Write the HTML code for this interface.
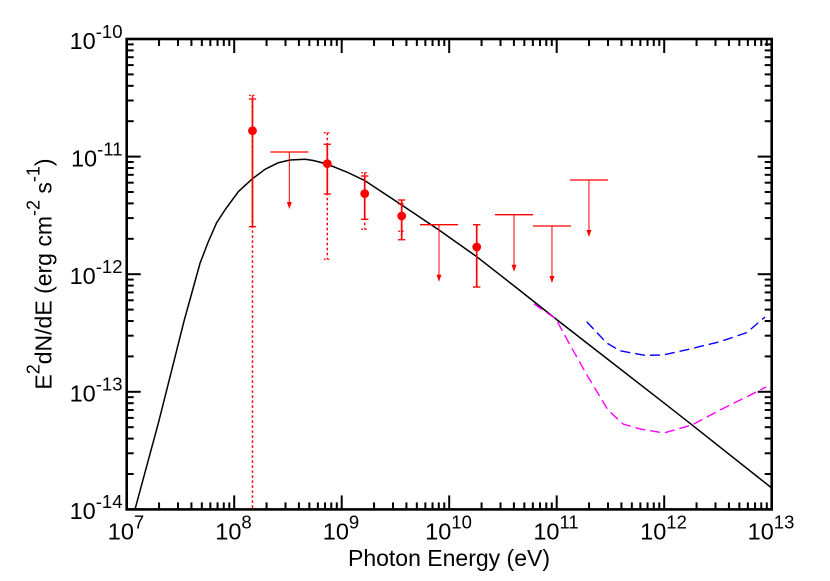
<!DOCTYPE html>
<html>
<head>
<meta charset="utf-8">
<title>Photon energy spectrum</title>
<style>
html,body{margin:0;padding:0;background:#fff;}
svg{display:block;font-family:"Liberation Sans",sans-serif;}
</style>
</head>
<body>
<svg id="chart" width="830" height="581" viewBox="0 0 830 581" xmlns="http://www.w3.org/2000/svg">
<rect x="0" y="0" width="830" height="581" fill="#fff"/>
<text x="449" y="566" font-size="23" text-anchor="middle">Photon Energy (eV)</text>
<text transform="translate(51.7,274) rotate(-90)" font-size="23" text-anchor="middle">E<tspan font-size="18" dy="-12">2</tspan><tspan dy="12">dN/dE (erg cm</tspan><tspan font-size="18" dy="-12">-2</tspan><tspan dy="12"> s</tspan><tspan font-size="18" dy="-12">-1</tspan><tspan dy="12">)</tspan></text>
</svg>
<script>
// Axis ranges (log10)
var xDecades = [7, 8, 9, 10, 11, 12, 13];
var yDecades = [-10, -11, -12, -13, -14];
var xTickLabels = ["7", "8", "9", "10", "11", "12", "13"];
var yTickLabels = ["-10", "-11", "-12", "-13", "-14"];

// Model curve: log10 energy (eV), log10 flux
var modelLogE = [7.077, 7.294, 7.419, 7.536, 7.605, 7.682, 7.759, 7.837, 7.914, 8.038, 8.163, 8.287, 8.41, 8.519, 8.659, 8.736, 8.863, 9.047, 9.217, 9.558, 9.905, 10.256, 10.593, 10.993, 11.998, 12.259, 13];
var modelLogF = [-14, -13.268, -12.815, -12.389, -12.162, -11.907, -11.724, -11.562, -11.454, -11.298, -11.193, -11.108, -11.052, -11.029, -11.023, -11.033, -11.063, -11.131, -11.205, -11.412, -11.624, -11.851, -12.092, -12.381, -13.095, -13.282, -13.818];

// Magenta dashed sensitivity curve
var magentaLogE = [10.789, 10.993, 11.124, 11.291, 11.477, 11.617, 11.775, 11.998, 12.259, 12.519, 12.863, 12.947];
var magentaLogF = [-12.253, -12.381, -12.602, -12.872, -13.155, -13.274, -13.316, -13.35, -13.282, -13.155, -12.999, -12.959];

// Blue dashed sensitivity curve
var blueLogE = [11.279, 11.465, 11.589, 11.821, 11.989, 12.24, 12.519, 12.767, 12.938];
var blueLogF = [-12.404, -12.585, -12.651, -12.69, -12.687, -12.636, -12.574, -12.497, -12.364];

// Detected points with statistical (solid) and systematic (dotted) errors
var pointLogE = [8.17, 8.866, 9.214, 9.558, 10.256];
var pointLogF = [-10.78, -11.06, -11.315, -11.505, -11.769];
var pointHigh = [-10.51, -10.895, -11.165, -11.369, -11.579];
var pointLow = [-11.596, -11.318, -11.533, -11.707, -12.109];
var pointDottedHigh = [-10.479, -10.797, -11.137, -11.403, -11.579];
var pointDottedLow = [-14, -11.873, -11.618, -11.635, -12.109];

// Upper limits
var limitLogE = [8.513, 9.905, 10.603, 10.956, 11.3];
var limitLogF = [-10.961, -11.579, -11.494, -11.59, -11.199];
var limitHalfWidth = 0.177;
var limitDrop = 0.485;

var NS = "http://www.w3.org/2000/svg";
var svg = document.getElementById("chart");
var PLOT = {left: 126.7, right: 771.7, top: 39, bottom: 509.4};

function sx(logE) {
  return PLOT.left + (logE - 7) / 6 * (PLOT.right - PLOT.left);
}
function sy(logF) {
  return PLOT.top + (-10 - logF) / 4 * (PLOT.bottom - PLOT.top);
}
function make(tag, attrs) {
  var el = document.createElementNS(NS, tag);
  for (var k in attrs) el.setAttribute(k, attrs[k]);
  return el;
}
function seg(x1, y1, x2, y2, color, width, dash) {
  var attrs = {x1: x1, y1: y1, x2: x2, y2: y2, stroke: color, "stroke-width": width};
  if (dash) attrs["stroke-dasharray"] = dash;
  return make("line", attrs);
}
function polyPoints(xs, ys) {
  var out = [];
  for (var i = 0; i < xs.length; i++) {
    out.push(sx(xs[i]).toFixed(2) + "," + sy(ys[i]).toFixed(2));
  }
  return out.join(" ");
}

// Series curves
var model = make("polyline", {points: polyPoints(modelLogE, modelLogF), fill: "none", stroke: "#000", "stroke-width": 1.5, "stroke-linejoin": "round"});


svg.appendChild(model);

var magenta = make("polyline", {points: polyPoints(magentaLogE, magentaLogF), fill: "none", stroke: "#ff00ff", "stroke-width": 1.4, "stroke-dasharray": "10 5"});


svg.appendChild(magenta);

var blue = make("polyline", {points: polyPoints(blueLogE, blueLogF), fill: "none", stroke: "#0000ff", "stroke-width": 1.4, "stroke-dasharray": "10 5"});


svg.appendChild(blue);

// Data points
pointLogE.forEach(function (e, i) {
  var g = make("g", {});
  
  
  var x = sx(e);
  g.appendChild(seg(x, sy(pointDottedHigh[i]), x, sy(pointDottedLow[i]), "#ff0000", 1.5, "2.5 2.5"));
  [pointDottedHigh[i], pointDottedLow[i]].forEach(function (v) {
    if (v > -14) g.appendChild(seg(x - 3.5, sy(v), x + 3.5, sy(v), "#ff0000", 1.2, "2 1.5"));
  });
  g.appendChild(seg(x, sy(pointHigh[i]), x, sy(pointLow[i]), "#ff0000", 1.7));
  g.appendChild(seg(x - 3.7, sy(pointHigh[i]), x + 3.7, sy(pointHigh[i]), "#ff0000", 1.3));
  g.appendChild(seg(x - 3.7, sy(pointLow[i]), x + 3.7, sy(pointLow[i]), "#ff0000", 1.3));
  g.appendChild(make("circle", {cx: x, cy: sy(pointLogF[i]), r: 4.4, fill: "#ff0000"}));
  svg.appendChild(g);
});

// Upper limits
limitLogE.forEach(function (e, i) {
  var g = make("g", {});
  
  
  var x = sx(e), y = sy(limitLogF[i]), tip = sy(limitLogF[i] - limitDrop);
  g.appendChild(seg(sx(e - limitHalfWidth), y, sx(e + limitHalfWidth), y, "#ff0000", 1.3));
  g.appendChild(seg(x, y, x, tip - 5, "#ff0000", 1));
  g.appendChild(make("polygon", {points: (x - 2.5) + "," + (tip - 7) + " " + (x + 2.5) + "," + (tip - 7) + " " + x + "," + tip, fill: "#ff0000"}));
  svg.appendChild(g);
});

// Frame
var frame = make("rect", {x: PLOT.left, y: PLOT.top, width: PLOT.right - PLOT.left, height: PLOT.bottom - PLOT.top, fill: "none", stroke: "#000", "stroke-width": 2.6});


svg.appendChild(frame);

// Ticks
var MAJOR = 14, MINOR = 7;
var ticks = make("g", {});


svg.appendChild(ticks);
xDecades.forEach(function (d) {
  for (var m = 1; m < 10; m++) {
    var v = d + Math.log10(m);
    if (v > 13) break;
    var x = sx(v), len = m === 1 ? MAJOR : MINOR;
    ticks.appendChild(seg(x, PLOT.bottom, x, PLOT.bottom - len, "#000", 2));
    ticks.appendChild(seg(x, PLOT.top, x, PLOT.top + len, "#000", 2));
  }
});
yDecades.forEach(function (d) {
  for (var m = 1; m < 10; m++) {
    var v = d + Math.log10(m);
    if (v > -10) break;
    var y = sy(v), len = m === 1 ? MAJOR : MINOR;
    ticks.appendChild(seg(PLOT.left, y, PLOT.left + len, y, "#000", 2));
    ticks.appendChild(seg(PLOT.right, y, PLOT.right - len, y, "#000", 2));
  }
});

// Tick labels
function powerLabel(anchorX, baseY, exponent, anchor) {
  var t = make("text", {x: anchorX, y: baseY, "font-size": 23.5, "text-anchor": anchor});
  var base = make("tspan", {});
  base.textContent = "10";
  var sup = make("tspan", {"font-size": 18.5, dy: -11});
  sup.textContent = exponent;
  t.appendChild(base);
  t.appendChild(sup);
  return t;
}
xDecades.forEach(function (d, i) {
  var t = powerLabel(sx(d) - 0.7, 539.3, xTickLabels[i], "middle");
  
  
  svg.appendChild(t);
});
yDecades.forEach(function (d, i) {
  var t = powerLabel(122.5, sy(d) + 9.8, yTickLabels[i], "end");
  
  
  svg.appendChild(t);
});
</script>
</body>
</html>
